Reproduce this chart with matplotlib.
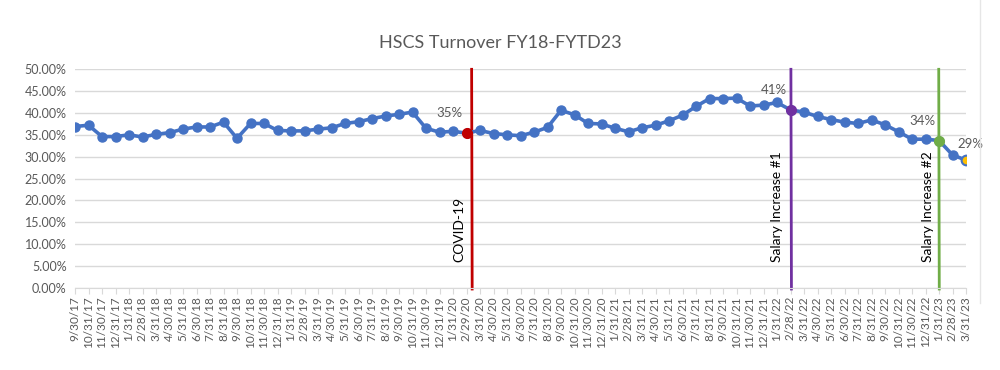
import numpy as np
import matplotlib
matplotlib.use("Agg")
import matplotlib.pyplot as plt
from matplotlib.ticker import FuncFormatter, FixedLocator
from matplotlib.lines import Line2D

plt.rcParams['font.family'] = ['Lato', 'DejaVu Sans']

# month-end dates, 9/30/17 .. 3/31/23
dates = ["9/30/17", "10/31/17", "11/30/17", "12/31/17",
         "1/31/18", "2/28/18", "3/31/18", "4/30/18", "5/31/18", "6/30/18",
         "7/31/18", "8/31/18", "9/30/18", "10/31/18", "11/30/18", "12/31/18",
         "1/31/19", "2/28/19", "3/31/19", "4/30/19", "5/31/19", "6/30/19",
         "7/31/19", "8/31/19", "9/30/19", "10/31/19", "11/30/19", "12/31/19",
         "1/31/20", "2/29/20", "3/31/20", "4/30/20", "5/31/20", "6/30/20",
         "7/31/20", "8/31/20", "9/30/20", "10/31/20", "11/30/20", "12/31/20",
         "1/31/21", "2/28/21", "3/31/21", "4/30/21", "5/31/21", "6/30/21",
         "7/31/21", "8/31/21", "9/30/21", "10/31/21", "11/30/21", "12/31/21",
         "1/31/22", "2/28/22", "3/31/22", "4/30/22", "5/31/22", "6/30/22",
         "7/31/22", "8/31/22", "9/30/22", "10/31/22", "11/30/22", "12/31/22",
         "1/31/23", "2/28/23", "3/31/23"]

turnover = [36.9, 37.2, 34.6, 34.6, 35.0, 34.5, 35.1, 35.5, 36.3, 36.8,
            36.8, 37.9, 34.2, 37.6, 37.6, 36.0, 35.9, 35.9, 36.3, 36.6,
            37.6, 38.0, 38.7, 39.3, 39.7, 40.2, 36.5, 35.6, 35.8, 35.4,
            36.0, 35.3, 35.0, 34.8, 35.6, 36.7, 40.6, 39.6, 37.6, 37.5,
            36.5, 35.7, 36.6, 37.2, 38.2, 39.5, 41.5, 43.3, 43.3, 43.4,
            41.6, 41.8, 42.4, 40.7, 40.2, 39.2, 38.5, 37.9, 37.6, 38.4,
            37.3, 35.7, 34.0, 34.0, 33.7, 30.4, 29.2]

# highlighted points: (date, event text, colour, data label)
events = [("2/29/20", "COVID-19", "#C00000", "35%"),
          ("2/28/22", "Salary Increase #1", "#7030A0", "41%"),
          ("1/31/23", "Salary Increase #2", "#70AD47", "34%")]
last_label = "29%"

vals = np.array(turnover) / 100
x = np.arange(len(dates))

fig = plt.figure(figsize=(10, 3.7), dpi=100)
ax = fig.add_axes([0.075, 0.2224, 0.891, 0.5903])

blue = "#4472C4"
grey = "#595959"

ax.plot(x, vals, color=blue, lw=2.6, marker="o", ms=6.5, zorder=3)

# event lines and coloured markers
line_offsets = [0.4, 0.05, 0.0]
text_offsets = [-0.55, -1.0, -0.8]
for (d, txt, col, lab), dx, tx in zip(events, line_offsets, text_offsets):
    i = dates.index(d)
    ax.plot([i + dx - 0.02, i + dx + 0.02], [0.50, -0.003], color=col, lw=2,
            zorder=2, clip_on=False)
    ax.plot(x[i], vals[i], "o", color=col, ms=7, zorder=4)
    ax.text(i + tx, 0.058, txt, rotation=90, ha="center", va="bottom",
            fontsize=10, color="black", zorder=5)
    ax.annotate(lab, (x[i], vals[i]), xytext=(-12, 10),
                textcoords="offset points", ha="center", va="bottom",
                fontsize=9.5, color=grey)

# last point
ax.plot(x[-1], vals[-1], "o", color="#FFC000", mec=blue, mew=1.5, ms=7,
        zorder=4)
ax.annotate(last_label, (x[-1], vals[-1]), xytext=(3, 7),
            textcoords="offset points", ha="center", va="bottom",
            fontsize=9.5, color=grey)

ax.set_xlim(0, len(dates) - 1)
ax.set_ylim(0, 0.5)
ax.yaxis.set_major_locator(FixedLocator(np.arange(0, 0.501, 0.05)))
ax.yaxis.set_major_formatter(FuncFormatter(lambda v, p: f"{v*100:.2f}%"))
ax.set_xticks(x)
ax.set_xticklabels(dates, rotation=90, fontsize=8.5, color=grey)
ax.tick_params(axis="y", length=0, labelsize=9, labelcolor=grey, pad=6)
ax.tick_params(axis="x", length=4, color="#d9d9d9", pad=2)
ax.grid(axis="y", color="#d9d9d9", lw=1)
ax.set_axisbelow(True)
for s in ["top", "right", "left"]:
    ax.spines[s].set_visible(False)
ax.spines["bottom"].set_color("#d9d9d9")

fig.text(0.5, 0.885, "HSCS Turnover FY18-FYTD23", ha="center", va="center",
         fontsize=13, color=grey)

# chart frame edge on the right
fig.add_artist(Line2D([0.98, 0.98], [0.18, 1.0], color="#e6e6e6", lw=1,
                      transform=fig.transFigure))

fig.savefig("out.png", dpi=100)
